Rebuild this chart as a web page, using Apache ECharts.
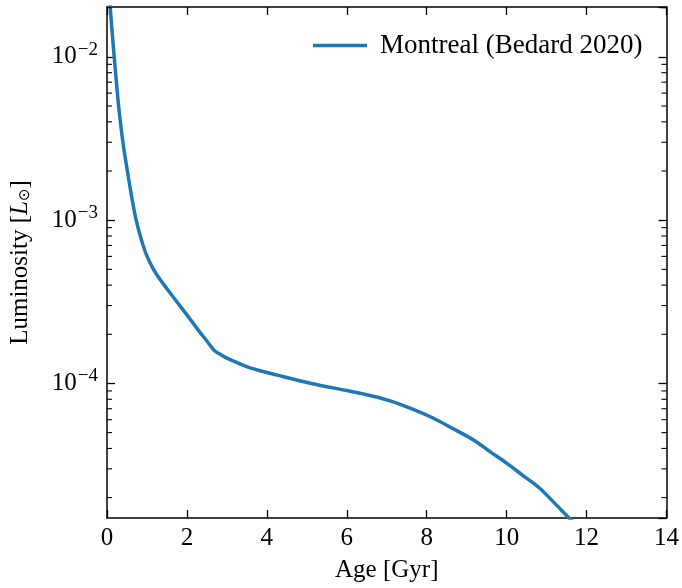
<!DOCTYPE html>
<html>
<head>
<meta charset="utf-8">
<script src="https://cdn.jsdelivr.net/npm/echarts@6/dist/echarts.min.js"></script>
<style>html,body{margin:0;padding:0;background:#fff}#c{width:682px;height:588px}</style>
</head>
<body>
<div id="c"></div>
<script>
const seriesName = 'Montreal (Bedard 2020)';
const ages = [0.05,0.08,0.12,0.18,0.24,0.30,0.40,0.51,0.62,0.73,0.86,0.99,1.15,1.32,1.5,1.69,2.0,2.26,2.5,2.68,2.85,3.0,3.2,3.6,4.29,5.11,6.0,6.35,7.02,7.6,8.17,8.6,9.17,9.6,10.0,10.4,10.82,11.2,11.6,11.7];
const luminosity = [0.025,0.0202,0.0151,0.0100,0.0068,0.00475,0.00298,0.0020,0.00138,0.0010,0.00076,0.00061,0.000507,0.000436,0.00038,0.00033,0.000263,0.000216,0.000182,0.000160,0.000150,0.000143,0.000136,0.000124,0.000112,0.0001,0.0000905,0.0000869,0.0000791,0.0000704,0.0000612,0.0000538,0.0000451,0.000038,0.0000325,0.0000274,0.0000229,0.0000185,0.0000147,0.000014];
const yMin = 1.5e-5, yMax = 0.0202;
const xMin = 0, xMax = 14;
// minor log ticks
const minorTicks = [];
for (let e = -5; e <= -2; e++) for (let m = 2; m <= 9; m++) {
  const v = m * Math.pow(10, e);
  if (v > yMin && v < yMax) minorTicks.push(v);
}
const FONT = '"Liberation Serif", "DejaVu Serif", serif';
const chart = echarts.init(document.getElementById('c'), null, {renderer: 'canvas'});
function yLabel(v){
  const e = Math.round(Math.log10(v));
  return '{b|10}{s|' + String(e).replace('-', '−') + '}';
}
const axisLine = {show: true, onZero: false, lineStyle: {color: '#000', width: 1.5}};
const tick = {show: true, inside: true, length: 8, lineStyle: {color: '#000', width: 1.3}};
const lineData = ages.map((a, i) => [a, luminosity[i]]);
chart.setOption({
  animation: false,
  grid: {left: 104, right: 14, top: 7, bottom: 68, containLabel: false},
  legend: {
    data: [{name: seriesName, icon: 'rect'}],
    left: 308, top: 27, itemWidth: 54, itemHeight: 3.5, itemGap: 10,
    textStyle: {fontFamily: FONT, fontSize: 27, color: '#000', padding: [0,0,0,8]}
  },
  xAxis: [{
    type: 'value', min: xMin, max: xMax, interval: 2, position: 'bottom',
    name: 'Age [Gyr]', nameLocation: 'middle', nameGap: 40,
    nameTextStyle: {fontFamily: FONT, fontSize: 25, color: '#000'},
    axisLine: axisLine, axisTick: tick,
    axisLabel: {fontFamily: FONT, fontSize: 25, color: '#000', margin: 8},
    splitLine: {show: false}
  },{
    type: 'value', min: xMin, max: xMax, interval: 2, position: 'top',
    axisLine: axisLine, axisTick: tick,
    axisLabel: {show: false}, splitLine: {show: false}
  }],
  yAxis: [{
    type: 'log', min: yMin, max: yMax, logBase: 10, position: 'left',
    name: 'Luminosity [{i|L}{o|⊙}]', nameLocation: 'middle', nameGap: 74, nameRotate: 90,
    nameTextStyle: {fontFamily: FONT, fontSize: 25, color: '#000',
      rich: {i: {fontFamily: FONT, fontStyle: 'italic', fontSize: 25, color: '#000'},
             o: {fontFamily: 'DejaVu Sans', fontSize: 15, color: '#000', padding: [10,0,0,0]}}},
    axisLine: axisLine, axisTick: tick,
    axisLabel: {
      fontFamily: FONT, color: '#000', margin: 9, showMinLabel: false, showMaxLabel: false,
      formatter: yLabel,
      rich: {b: {fontFamily: FONT, fontSize: 25, color: '#000'},
             s: {fontFamily: FONT, fontSize: 19, color: '#000', padding: [0,0,14,1]}}
    },
    splitLine: {show: false}
  },{
    type: 'log', min: yMin, max: yMax, logBase: 10, position: 'right',
    axisLine: axisLine, axisTick: tick,
    axisLabel: {show: false}, splitLine: {show: false}
  }],
  series: [{
    name: seriesName, type: 'line', xAxisIndex: 0, yAxisIndex: 0,
    data: lineData,
    showSymbol: false, smooth: 0.3, clip: true,
    lineStyle: {color: '#1f77b4', width: 3.5}, itemStyle: {color: '#1f77b4'}
  },{
    name: 'mirror', type: 'line', xAxisIndex: 1, yAxisIndex: 1,
    data: lineData, showSymbol: false, silent: true,
    lineStyle: {opacity: 0, width: 0}, itemStyle: {opacity: 0}
  },{
    name: 'minor', type: 'custom', xAxisIndex: 0, yAxisIndex: 0, silent: true, clip: false, z: 5,
    data: minorTicks.map(v => [0, v]),
    encode: {x: 0, y: 1},
    renderItem: function(params, api){
      const v = api.value(1);
      const pl = api.coord([xMin, v]);
      const pr = api.coord([xMax, v]);
      const st = {stroke: '#000', lineWidth: 1.1};
      return {type: 'group', children: [
        {type: 'line', shape: {x1: pl[0], y1: pl[1], x2: pl[0] + 5, y2: pl[1]}, style: st},
        {type: 'line', shape: {x1: pr[0] - 5, y1: pr[1], x2: pr[0], y2: pr[1]}, style: st}
      ]};
    }
  }]
});
</script>
</body>
</html>
